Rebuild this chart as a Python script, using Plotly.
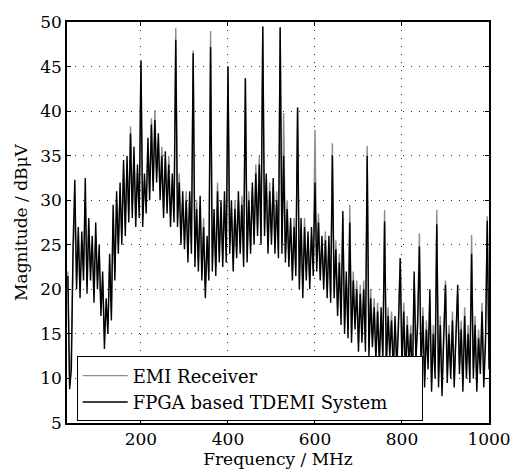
import numpy as np
import plotly.graph_objects as go

# frequency grid in MHz (4 MHz steps)
freq = np.arange(32, 1001, 4)

tdemi = [
    21.5, 8.8, 11, 25, 32.3, 20, 27, 19, 26.5, 21,
    32.5, 19.5, 28, 21, 26, 18.5, 27.5, 20, 25, 17,
    22, 13.3, 19, 15, 24, 16.5, 29.5, 21, 31, 24,
    32, 25, 34.5, 26, 35, 27.5, 37.5, 28, 36, 27,
    34, 28, 45.7, 27, 33, 28.5, 37, 30, 38.5, 31,
    39, 32, 37.5, 30, 35, 28, 35.5, 28.5, 34, 27,
    33, 27.5, 48, 27, 32, 25, 31, 24.5, 30, 23,
    31, 24, 46.5, 22.5, 29, 22, 30.5, 21, 27, 19,
    26, 21, 47.2, 22, 29, 21.5, 31, 23, 30, 22.5,
    31, 23, 45, 24, 30, 22, 29, 23.5, 31, 24,
    29.5, 22.5, 43.7, 23, 30, 24, 32, 25, 33, 26,
    34, 25, 49.5, 26, 33, 24, 31, 25, 32.5, 24,
    30, 23.5, 49.4, 24, 35, 23, 29, 22.5, 28, 21,
    27, 21.5, 40.4, 20, 28, 19, 27, 21, 26.5, 20,
    27, 21.5, 32, 22, 27.5, 21, 26, 20, 25.5, 19,
    26, 18.5, 35, 19, 24.5, 17, 23, 16, 28.8, 15,
    22, 14.5, 27.5, 14, 21, 15.5, 20, 13, 19.5, 14,
    20, 13, 35, 12.5, 19, 13.5, 18, 12, 17.5, 11.5,
    18, 12, 27.6, 11, 17, 12.5, 16.5, 10.5, 17, 11,
    16, 23.5, 11, 17.5, 10, 16, 11.5, 15, 9.5, 22,
    12, 16, 24.8, 10.5, 17, 9, 15.5, 11, 20, 8.5,
    15, 10, 27.3, 9, 16, 8, 14.5, 20.5, 9.5, 15,
    10, 16.5, 9, 14, 20.5, 10.5, 15.5, 8.5, 17, 10,
    15, 9.5, 24, 10, 16, 8.5, 14.5, 10.5, 17.5, 9,
    14, 27.7, 11,
]

receiver = [
    22, 9.5, 13, 24, 29, 21, 26, 20, 25, 22,
    30, 20.5, 27, 22, 25, 19.5, 26, 21, 24, 18,
    21, 14.5, 18, 16, 23, 17.5, 28, 22, 30, 25,
    31, 26, 33.5, 27, 34, 28.5, 38.3, 29, 35, 28,
    33, 29, 45.5, 28, 32, 29.5, 36, 31, 39.2, 32,
    40.1, 33, 36.5, 31, 36, 29, 34.5, 29.5, 35, 28,
    32, 28.5, 49.3, 28, 33, 26, 30, 25.5, 31, 24,
    30, 25, 46.8, 23.5, 30, 23, 29.5, 22, 28, 20,
    25, 22, 49, 23, 28, 22.5, 32, 24, 29, 23.5,
    30, 24, 45, 25, 29, 23, 30, 24.5, 30, 25,
    30.5, 23.5, 43.7, 24, 31, 25, 31, 26, 34, 27,
    35, 26, 49.5, 27, 32, 25, 32, 26, 31.5, 25,
    31, 24.5, 49.3, 25, 39.8, 24, 30, 23.5, 27, 22,
    28, 22.5, 40.4, 21, 27, 20, 28, 22, 25.5, 21,
    26, 22.5, 37.9, 23, 28.5, 22, 25, 21, 26.5, 20,
    25, 19.5, 36.4, 20, 25.5, 18, 24, 17, 28, 16,
    21, 15.5, 29.5, 15, 22, 16.5, 21, 14, 20.5, 15,
    21, 14, 36.1, 13.5, 20, 14.5, 19, 13, 18.5, 12.5,
    17, 13, 28.9, 12, 18, 13.5, 17.5, 11.5, 16, 12,
    17, 23.5, 12, 18.5, 11, 17, 12.5, 16, 10.5, 21,
    13, 17, 26.3, 11.5, 18, 10, 16.5, 12, 19, 9.5,
    16, 11, 28.9, 10, 17, 9, 15.5, 21, 10.5, 16,
    11, 17.5, 10, 15, 19.5, 11.5, 16.5, 9.5, 18, 11,
    16, 10.5, 26.1, 11, 17, 9.5, 15.5, 11.5, 18.5, 10,
    15, 28.2, 12,
]

x_ticks = [200, 400, 600, 800, 1000]
y_ticks = [5, 10, 15, 20, 25, 30, 35, 40, 45, 50]
series_names = ["EMI Receiver", "FPGA based TDEMI System"]

FONT = "DejaVu Serif, serif"
FS = 17
PAD = "\u00a0" * 5

fig = go.Figure()
fig.add_trace(go.Scatter(x=freq, y=receiver, mode="lines", name=series_names[0],
                         line=dict(color="#8c8c8c", width=1.4)))
fig.add_trace(go.Scatter(x=freq, y=tdemi, mode="lines", name=series_names[1] + PAD,
                         line=dict(color="#000000", width=1.4)))

fig.update_layout(
    width=523, height=476,
    margin=dict(l=67, r=23, t=14, b=53),
    paper_bgcolor="white", plot_bgcolor="white",
    font=dict(family=FONT, size=FS, color="black"),
    legend=dict(x=0.023, y=0.166, xanchor="left", yanchor="top",
                bgcolor="white", bordercolor="black", borderwidth=1,
                font=dict(family=FONT, size=18, color="black"), itemwidth=45,
                tracegroupgap=0),
    showlegend=True,
)
fig.update_xaxes(
    range=[30, 1000], tickvals=x_ticks, ticktext=[str(v) for v in x_ticks],
    title_text="Frequency / MHz", title_standoff=0,
    title_font=dict(family=FONT, size=FS, color="black"),
)
fig.update_yaxes(
    range=[5, 50], tickvals=y_ticks, ticktext=[str(v) for v in y_ticks],
    title_text="Magnitude / dBμV", title_standoff=8,
    title_font=dict(family=FONT, size=FS, color="black"),
)
for upd in (fig.update_xaxes, fig.update_yaxes):
    upd(showline=True, linecolor="black", linewidth=1.5, mirror="ticks",
        ticks="inside", ticklen=4, tickcolor="black",
        showgrid=True, gridcolor="#333333", gridwidth=1, griddash="1px,7px",
        zeroline=False, tickfont=dict(family=FONT, size=FS, color="black"))

fig.write_html("out.html")
